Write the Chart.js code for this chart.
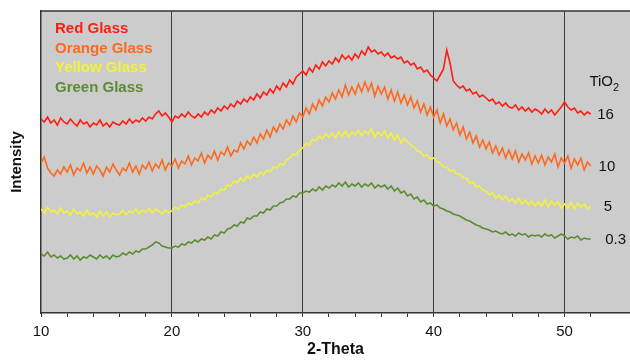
<!DOCTYPE html>
<html>
<head>
<meta charset="utf-8">
<script src="https://cdn.jsdelivr.net/npm/chart.js@4/dist/chart.umd.min.js"></script>
<style>
  body { margin: 0; background: #ffffff; }
  #wrap { width: 630px; height: 363px; }
</style>
</head>
<body>
<div id="wrap"><canvas id="xrdChart" width="630" height="363"></canvas></div>
<script>
// 2-theta sampling grid (degrees), 10 to 52 in 0.25 steps
const twoTheta = Array.from({ length: 169 }, (_, i) => 10 + i * 0.25);

// Intensity (offset counts)
const redGlass = [
  194,191,196,190,193,188,195,191, 189,194,190,187,193,189,191,186,
  190,188,193,187,190,186,191,189, 188,192,189,194,190,193,191,195,
  192,196,194,199,202,197,200,196, 191,197,195,199,196,201,197,195,
  199,196,201,198,203,200,205,202, 207,204,209,206,212,209,214,211,
  216,213,219,215,221,218,224,220, 227,223,230,226,233,229,236,239,
  242,238,245,241,248,244,251,247, 252,249,255,251,258,254,257,253,
  259,255,262,258,266,261,263,259, 261,257,260,255,257,254,256,250,
  252,248,250,244,246,241,243,238, 235,232,238,244,263,250,232,228,
  225,227,222,224,219,221,216,218, 215,212,214,209,211,207,210,206,
  205,208,203,206,202,205,201,204, 202,199,204,200,203,198,202,206,
  211,206,203,205,200,202,198,201, 199
];
const orangeGlass = [
  150,156,145,140,137,143,139,146, 141,148,138,145,142,150,140,146,
  139,147,143,137,146,141,149,143, 138,145,142,150,141,147,139,148,
  144,151,142,149,145,153,143,150, 147,154,145,152,149,157,148,155,
  152,160,150,158,154,162,153,161, 158,166,157,163,161,170,164,172,
  168,176,170,179,174,183,176,186, 181,189,184,193,188,197,191,200,
  196,205,199,209,203,213,207,216, 211,220,214,223,216,228,218,226,
  219,229,221,231,222,230,217,227, 219,226,214,223,212,221,210,218,
  208,216,205,212,201,209,198,206, 196,203,190,199,187,194,183,190,
  178,186,174,181,170,177,166,173, 164,171,160,167,158,165,155,163,
  154,162,151,159,153,160,149,157, 150,158,148,156,151,159,146,155,
  150,157,145,154,148,155,143,151, 147
];
const yellowGlass = [
  104,100,106,101,103,99,105,100, 102,98,104,99,101,97,103,98,
  100,96,102,97,101,96,100,98, 99,103,98,102,100,104,99,103,
  101,105,100,104,102,99,103,100, 102,106,104,108,106,110,108,112,
  110,115,113,118,116,121,119,124, 123,128,127,132,130,135,132,137,
  134,139,136,141,138,143,141,146, 145,149,148,153,155,159,158,163,
  165,170,168,174,172,177,174,179, 176,180,175,181,177,182,176,181,
  178,183,177,182,179,184,176,181, 177,182,175,180,173,178,170,175,
  171,168,166,162,161,157,158,154, 155,151,150,146,146,142,143,139,
  139,135,135,130,131,126,127,123, 122,118,120,115,118,113,117,112,
  114,110,115,109,113,108,112,107, 111,107,113,106,112,108,111,105,
  109,105,111,104,110,106,109,104, 107
];
const greenGlass = [
  59,57,61,56,58,55,57,54, 55,58,54,57,53,56,55,58,
  56,54,58,55,57,54,58,56, 57,60,58,61,59,62,61,64,
  64,66,68,71,70,67,66,65, 65,67,66,69,68,71,70,73,
  71,74,73,76,74,78,77,81, 80,84,85,88,87,91,90,95,
  94,97,97,101,100,104,103,107, 107,110,111,114,114,117,116,120,
  120,122,121,124,122,126,123,127, 125,128,126,130,127,131,126,129,
  127,130,126,129,127,130,125,128, 126,128,124,127,122,125,120,122,
  117,119,114,116,111,113,109,110, 107,108,105,104,102,101,99,98,
  97,95,93,92,90,88,87,85, 84,83,81,82,80,79,81,78,
  79,77,80,78,79,76,78,77, 78,76,79,77,78,75,77,79,
  77,74,76,75,77,73,75,74, 74
];

const seriesNames = ["Red Glass", "Orange Glass", "Yellow Glass", "Green Glass"];
const seriesColors = ["#ff1d12", "#fd6a1e", "#f2f23a", "#5b8c32"];
const tio2Labels = ["16", "10", "5", "0.3"];

const FONT = "'Liberation Sans', Arial, sans-serif";

function toPoints(values) {
  return values.map((v, i) => ({ x: twoTheta[i], y: v }));
}

// gray plot background + top frame line
const plotBackground = {
  id: "plotBackground",
  beforeDraw(chart) {
    const { ctx, chartArea } = chart;
    ctx.save();
    ctx.fillStyle = "#cccccc";
    ctx.fillRect(chartArea.left, chartArea.top, chartArea.right - chartArea.left, chartArea.bottom - chartArea.top);
    ctx.strokeStyle = "#333333";
    ctx.lineWidth = 1.5;
    ctx.beginPath();
    ctx.moveTo(chartArea.left, chartArea.top);
    ctx.lineTo(chartArea.right, chartArea.top);
    ctx.stroke();
    ctx.restore();
  },
};

// text legend in the top-left and TiO2 labels at the end of each trace
const textLabels = {
  id: "textLabels",
  afterDraw(chart) {
    const { ctx, chartArea, scales } = chart;
    ctx.save();
    ctx.font = "bold 15px " + FONT;
    ctx.textBaseline = "middle";
    ctx.textAlign = "left";
    chart.data.datasets.forEach((ds, i) => {
      ctx.fillStyle = ds.borderColor;
      ctx.fillText(ds.label, chartArea.left + 14, chartArea.top + 18 + i * 19.5);
    });

    ctx.fillStyle = "#111111";
    ctx.font = "15px " + FONT;
    const offsets = [52.5, 52.6, 53.0, 53.1];
    chart.data.datasets.forEach((ds, i) => {
      const last = ds.data[ds.data.length - 1];
      ctx.fillText(tio2Labels[i], scales.x.getPixelForValue(offsets[i]), scales.y.getPixelForValue(last.y) + 1);
    });
    const tx = scales.x.getPixelForValue(51.9);
    const ty = scales.y.getPixelForValue(redGlass[redGlass.length - 1]) - 32;
    ctx.fillText("TiO", tx, ty);
    const w = ctx.measureText("TiO").width;
    ctx.font = "11px " + FONT;
    ctx.fillText("2", tx + w, ty + 6);
    ctx.restore();
  },
};

const xrdChart = new Chart(document.getElementById("xrdChart").getContext("2d"), {
  type: "line",
  data: {
    datasets: seriesNames.map((name, i) => ({
      label: name,
      data: toPoints([redGlass, orangeGlass, yellowGlass, greenGlass][i]),
      borderColor: seriesColors[i],
      borderWidth: 1.6,
      pointRadius: 0,
      tension: 0,
      fill: false,
    })),
  },
  options: {
    responsive: false,
    animation: false,
    layout: { padding: { top: 11, right: 0, left: 0, bottom: 0 } },
    plugins: { legend: { display: false }, tooltip: { enabled: false } },
    scales: {
      x: {
        type: "linear",
        min: 10,
        max: 55,
        afterFit(scale) {
          scale.height = 50;
          scale.paddingRight = 0;
          scale.paddingLeft = 0;
        },
        border: { display: true, color: "#333333", width: 1.5 },
        grid: {
          color: (c) => (c.tick && c.tick.value % 10 === 0 && c.tick.value > 10 && c.tick.value < 55 ? "#3c3c3c" : "rgba(0,0,0,0)"),
          tickColor: "#333333",
          tickLength: 4,
          lineWidth: 1,
        },
        ticks: {
          stepSize: 2,
          autoSkip: false,
          maxRotation: 0,
          padding: 6,
          color: "#111111",
          font: { family: FONT, size: 15 },
          callback: (v) => (v % 10 === 0 && v <= 50 ? String(v) : ""),
        },
        title: {
          display: true,
          text: "2-Theta",
          color: "#111111",
          font: { family: FONT, size: 16, weight: "bold" },
          padding: { top: 0, bottom: 4 },
        },
      },
      y: {
        min: 0,
        max: 302,
        afterFit(scale) { scale.width = 41; },
        border: { display: true, color: "#333333", width: 1.5 },
        grid: { display: false, drawTicks: false },
        ticks: { display: false },
        title: {
          display: true,
          text: "Intensity",
          color: "#111111",
          font: { family: FONT, size: 15, weight: "bold" },
          padding: { top: 8, bottom: 0 },
        },
      },
    },
  },
  plugins: [plotBackground, textLabels],
});
</script>
</body>
</html>
